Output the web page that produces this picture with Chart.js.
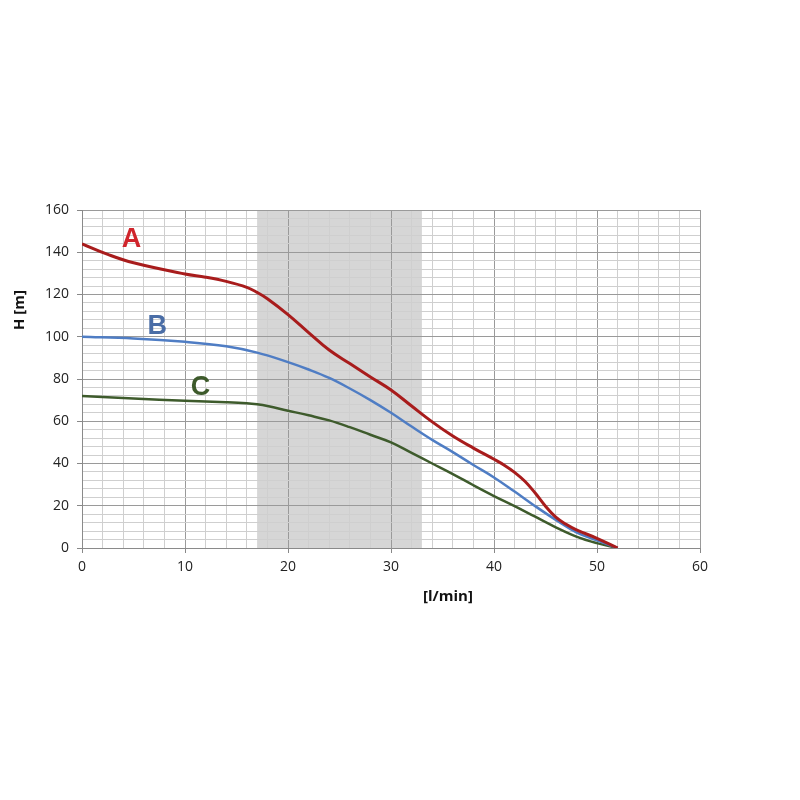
<!DOCTYPE html>
<html>
<head>
<meta charset="utf-8">
<script src="https://cdn.jsdelivr.net/npm/chart.js@4.4.1/dist/chart.umd.min.js"></script>
<style>
  html, body { margin: 0; padding: 0; background: #ffffff; }
  #wrap { width: 800px; height: 800px; }
</style>
</head>
<body>
<div id="wrap"><canvas id="c" width="800" height="800"></canvas></div>
<script>
// ---- data ----
const flowA = [0, 2.5, 5, 10, 12, 14, 16, 17, 18, 20, 22, 24, 26, 28, 30, 32, 34, 36, 38, 40, 41, 42, 43, 44, 45, 46, 47, 48, 50, 52];
const headA = [144, 139, 135, 129.7, 128.2, 126.2, 123.4, 121, 118, 110.5, 102, 93.7, 87.3, 81, 74.8, 67.2, 59.7, 53, 47.3, 42, 39.2, 35.8, 31.6, 26, 19.8, 14.6, 11.2, 8.6, 4.6, 0];

const flowB = [0, 5, 10, 14, 17, 20, 22, 24, 26, 28, 30, 32, 34, 36, 38, 40, 42, 44, 46, 48, 50, 52];
const headB = [100, 99.2, 97.6, 95.5, 92.5, 88, 84.5, 80.5, 75.5, 70, 64, 57.5, 51.2, 45.4, 39.3, 33.4, 26.7, 19.8, 13.3, 7.4, 3.6, 0];

const flowC = [0, 5, 10, 14, 16, 17, 18, 20, 22, 24, 26, 28, 30, 32, 34, 36, 38, 40, 42, 44, 46, 48, 50, 52];
const headC = [72, 70.8, 69.7, 69, 68.5, 68, 67.2, 65, 62.8, 60.4, 57.2, 53.6, 50, 45, 40, 35, 29.7, 24.6, 19.8, 14.8, 9.8, 5.4, 2.3, 0];

const seriesNames = ['A', 'B', 'C'];
const seriesLabelPos = [[4.8, 145.8], [7.3, 105], [11.5, 76]];
const shadedRange = [17, 33];
const xTitle = '[l/min]';
const yTitle = 'H [m]';
const xMajorTicks = [0, 10, 20, 30, 40, 50, 60];
const yMajorTicks = [0, 20, 40, 60, 80, 100, 120, 140, 160];

const colors = ['#a81c1c', '#4f7dc4', '#3e5b2c'];
const labelColors = ['#d0252c', '#4a6da6', '#3d5a2b'];

function pts(xs, ys) { return xs.map((x, i) => ({ x: x, y: ys[i] })); }

const shadePlugin = {
  id: 'shade',
  beforeDraw(chart) {
    const { ctx, chartArea, scales } = chart;
    const x0 = scales.x.getPixelForValue(shadedRange[0]);
    const x1 = scales.x.getPixelForValue(shadedRange[1]);
    ctx.save();
    ctx.fillStyle = '#d6d6d6';
    ctx.fillRect(x0, chartArea.top, x1 - x0, chartArea.bottom - chartArea.top);
    ctx.restore();
  }
};

const labelPlugin = {
  id: 'labels',
  afterDraw(chart) {
    const { ctx, scales } = chart;
    ctx.save();
    ctx.font = 'bold 27px "Liberation Sans", Arial, sans-serif';
    ctx.textAlign = 'center';
    ctx.textBaseline = 'middle';
    seriesNames.forEach((n, i) => {
      ctx.fillStyle = labelColors[i];
      ctx.fillText(n, scales.x.getPixelForValue(seriesLabelPos[i][0]), scales.y.getPixelForValue(seriesLabelPos[i][1]));
    });
    // axis titles
    ctx.fillStyle = '#111';
    ctx.font = 'bold 15px "Open Sans", "Liberation Sans", sans-serif';
    ctx.fillText(xTitle, 448, 597);
    ctx.translate(20, 310);
    ctx.rotate(-Math.PI / 2);
    ctx.fillText(yTitle, 0, 0);
    ctx.restore();
  }
};

new Chart(document.getElementById('c'), {
  type: 'line',
  data: {
    datasets: [
      { label: 'A', data: pts(flowA, headA), borderColor: colors[0], borderWidth: 3, pointRadius: 0, tension: 0.4 },
      { label: 'B', data: pts(flowB, headB), borderColor: colors[1], borderWidth: 2.5, pointRadius: 0, tension: 0.4 },
      { label: 'C', data: pts(flowC, headC), borderColor: colors[2], borderWidth: 2.5, pointRadius: 0, tension: 0.4 }
    ]
  },
  options: {
    responsive: false,
    animation: false,
    layout: { padding: { left: 10, top: 210, right: 100, bottom: 190 } },
    plugins: { legend: { display: false }, tooltip: { enabled: false } },
    scales: {
      x: {
        type: 'linear', min: 0, max: 60,
        afterFit(s) { s.height = 62; },
        ticks: {
          stepSize: 2, autoSkip: false, maxRotation: 0, padding: 6,
          color: '#222', font: { size: 14, family: '"Open Sans", "Liberation Sans", sans-serif' },
          callback: v => xMajorTicks.includes(v) ? String(v) : ''
        },
        grid: {
          color: c => (c.tick && xMajorTicks.includes(c.tick.value)) ? '#9a9a9a' : '#cfcfcf',
          tickColor: c => (c.tick && xMajorTicks.includes(c.tick.value)) ? '#888' : 'rgba(0,0,0,0)',
          tickLength: 5, lineWidth: 1
        },
        border: { color: '#8a8a8a' }
      },
      y: {
        type: 'linear', min: 0, max: 160,
        afterFit(s) { s.width = 72; },
        ticks: {
          stepSize: 4, autoSkip: false, padding: 8,
          color: '#222', font: { size: 14, family: '"Open Sans", "Liberation Sans", sans-serif' },
          callback: v => yMajorTicks.includes(v) ? String(v) : ''
        },
        grid: {
          color: c => (c.tick && yMajorTicks.includes(c.tick.value)) ? '#9a9a9a' : '#cfcfcf',
          tickColor: c => (c.tick && yMajorTicks.includes(c.tick.value)) ? '#888' : 'rgba(0,0,0,0)',
          tickLength: 5, lineWidth: 1
        },
        border: { color: '#8a8a8a' }
      }
    }
  },
  plugins: [shadePlugin, labelPlugin]
});
</script>
</body>
</html>
